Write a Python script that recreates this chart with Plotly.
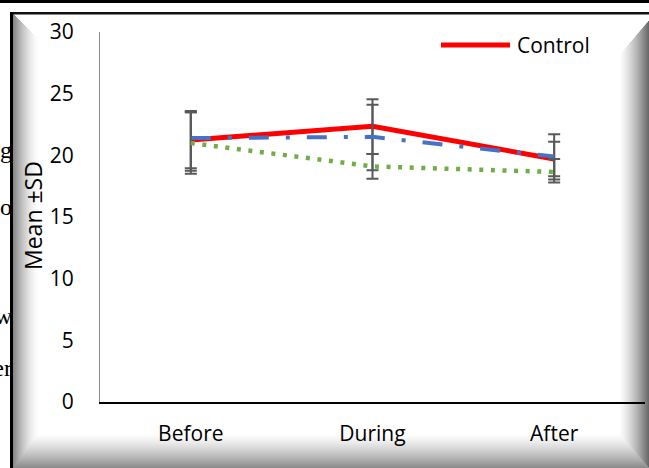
import plotly.graph_objects as go

W, H = 649, 468

categories = ["Before", "During", "After"]
control_mean = [21.25, 22.35, 19.7]
group2_mean = [21.4, 21.5, 19.9]
group3_mean = [21.0, 19.1, 18.65]
control_sd_plus = [2.35, 2.2, 2.0]
control_sd_minus = [2.3, 2.25, 1.9]
group2_sd_plus = [2.1, 2.6, 1.2]
group2_sd_minus = [2.65, 2.7, 1.6]
group3_sd_plus = [2.5, 1.0, 1.05]
group3_sd_minus = [2.5, 1.0, 0.6]
y_ticks = [0, 5, 10, 15, 20, 25, 30]
y_title = "Mean ±SD"
legend_name = "Control"
doc_fragments = ["g", "o", "w", "er"]
doc_fragment_y = [152, 209, 318, 370]

FONT = "Open Sans"


def fx(x):
    return x / W


def fy(y):
    return 1 - y / H


def grey(level):
    v = int(round(max(0, min(255, level))))
    return f"rgb({v},{v},{v})"


fig = go.Figure()

err_style = dict(type="data", symmetric=False, color="#595959", thickness=2, width=6)

fig.add_trace(go.Scatter(
    x=categories, y=control_mean, mode="lines", name=legend_name,
    line=dict(color="#FF0000", width=5),
    error_y=dict(array=control_sd_plus, arrayminus=control_sd_minus, **err_style),
    showlegend=False,
))
fig.add_trace(go.Scatter(
    x=categories, y=group2_mean, mode="lines", name="Group 2",
    line=dict(color="#4472C4", width=4, dash="20px,17px,4px,17px"),
    error_y=dict(array=group2_sd_plus, arrayminus=group2_sd_minus, **err_style),
    showlegend=False,
))
fig.add_trace(go.Scatter(
    x=categories, y=group3_mean, mode="lines", name="Group 3",
    line=dict(color="#70AD47", width=4.5, dash="4px,7.6px"),
    error_y=dict(array=group3_sd_plus, arrayminus=group3_sd_minus, **err_style),
    showlegend=False,
))

# clipped fragments of document text left of the frame
fig.add_trace(go.Scatter(
    x=[12] * len(doc_fragments), y=doc_fragment_y, mode="text",
    text=doc_fragments, textposition="middle left",
    textfont=dict(family="Liberation Serif", size=24, color="black"),
    xaxis="x2", yaxis="y2", cliponaxis=True, showlegend=False, hoverinfo="skip",
))

shapes = []
# top black band
shapes.append(dict(type="rect", xref="paper", yref="paper", x0=0, x1=1, y0=fy(0), y1=fy(3),
                   fillcolor="black", line=dict(width=0), layer="below"))
# left bevel
LB = 26
for d in range(LB):
    t = d / LB
    shapes.append(dict(type="rect", xref="paper", yref="paper",
                       x0=fx(13 + d), x1=fx(14 + d), y0=fy(14 + d), y1=fy(468 - d * 34 / LB),
                       fillcolor=grey(255 - 120 * (1 - t) ** 1.6), line=dict(width=0), layer="below"))
# right bevel
RB = 30
for d in range(RB):
    t = d / RB
    shapes.append(dict(type="rect", xref="paper", yref="paper",
                       x0=fx(648 - d), x1=fx(649 - d), y0=fy(21 + 1.17 * d), y1=fy(468 - d * 34 / RB),
                       fillcolor=grey(255 - 150 * (1 - t) ** 1.4), line=dict(width=0), layer="below"))
# bottom bevel
BB = 34
for e in range(BB):
    t = e / BB
    shapes.append(dict(type="rect", xref="paper", yref="paper",
                       x0=fx(13 + e * LB / BB), x1=fx(649 - e * RB / BB), y0=fy(467 - e), y1=fy(468 - e),
                       fillcolor=grey(255 - 115 * (1 - t) ** 1.3), line=dict(width=0), layer="below"))
# frame lines
shapes.append(dict(type="rect", xref="paper", yref="paper", x0=fx(10), x1=1, y0=fy(12), y1=fy(14.5),
                   fillcolor="#111111", line=dict(width=0), layer="below"))
shapes.append(dict(type="rect", xref="paper", yref="paper", x0=fx(10), x1=fx(13), y0=fy(12), y1=0,
                   fillcolor="black", line=dict(width=0), layer="below"))
# manual legend line
shapes.append(dict(type="line", xref="paper", yref="paper", x0=fx(441), x1=fx(510), y0=fy(45), y1=fy(45),
                   line=dict(color="#FF0000", width=5)))

annotations = [
    dict(text=y_title, xref="paper", yref="paper", x=fx(33), y=fy(216), textangle=-90,
         showarrow=False, font=dict(family=FONT, size=23, color="black"),
         xanchor="center", yanchor="middle"),
    dict(text=legend_name, xref="paper", yref="paper", x=fx(515), y=fy(45),
         showarrow=False, font=dict(family=FONT, size=21, color="black"),
         xanchor="left", yanchor="middle"),
]

fig.update_layout(
    template="none",
    width=W, height=H,
    margin=dict(l=0, r=0, t=0, b=0, pad=0),
    paper_bgcolor="white",
    plot_bgcolor="rgba(0,0,0,0)",
    showlegend=False,
    font=dict(family=FONT, size=21, color="black"),
    xaxis=dict(
        domain=[fx(100), fx(645)], type="category", range=[-0.5, 2.5],
        showline=True, linecolor="black", linewidth=2, showgrid=False, zeroline=False,
        ticks="", ticklabelstandoff=12, automargin=False,
        tickfont=dict(family=FONT, size=21, color="black"),
    ),
    yaxis=dict(
        domain=[fy(402), fy(32)], range=[0, 30], tickvals=y_ticks,
        showline=True, linecolor="#8C8C8C", linewidth=1, showgrid=False, zeroline=False,
        ticks="", ticklabelstandoff=21, automargin=False,
        tickfont=dict(family=FONT, size=21, color="black"),
    ),
    xaxis2=dict(domain=[0, fx(10)], range=[0, 10], visible=False, fixedrange=True, anchor="y2"),
    yaxis2=dict(domain=[0, 1], range=[H, 0], visible=False, fixedrange=True, anchor="x2"),
    shapes=shapes,
    annotations=annotations,
)

fig.write_html(
    "out.html",
    config={"displayModeBar": False},
    post_script="document.body.style.margin='0px';document.body.style.overflow='hidden';",
)
